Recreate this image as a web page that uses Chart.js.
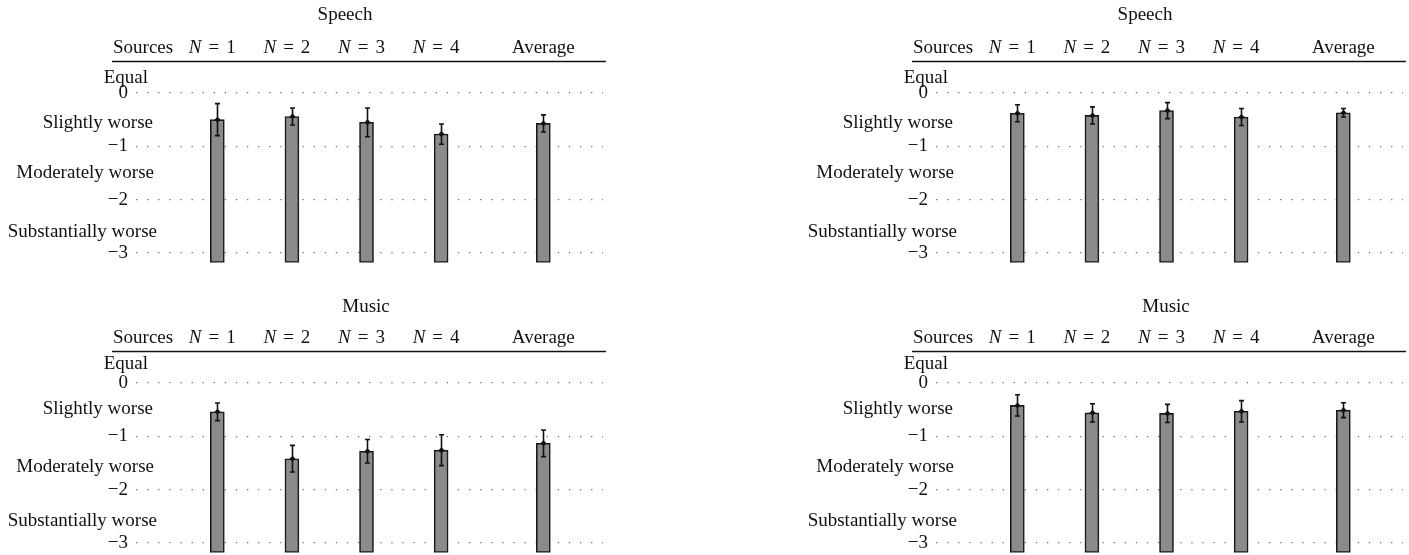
<!DOCTYPE html>
<html>
<head>
<meta charset="utf-8">
<script src="https://cdn.jsdelivr.net/npm/chart.js@4.4.1/dist/chart.umd.min.js"></script>
<style>
  html, body { margin: 0; padding: 0; background: #fff; overflow: hidden; }
  body { width: 1409px; height: 555px; position: relative; }
  .panel { position: absolute; width: 612px; height: 282px; }
  .panel canvas { display: block; }
</style>
</head>
<body>
<div class="panel" style="left:0px;top:0px"><canvas id="c1" width="612" height="282"></canvas></div>
<div class="panel" style="left:800px;top:0px"><canvas id="c2" width="612" height="282"></canvas></div>
<div class="panel" style="left:0px;top:290px"><canvas id="c3" width="612" height="282"></canvas></div>
<div class="panel" style="left:800px;top:290px"><canvas id="c4" width="612" height="282"></canvas></div>
<script>
// ---------------- DATA ----------------
const categories = ['N = 1', 'N = 2', 'N = 3', 'N = 4', 'Average'];
const headerLead = 'Sources';
const ratingLabels = ['Equal', 'Slightly worse', 'Moderately worse', 'Substantially worse'];
const yTicks = [0, -1, -2, -3];
const yTickLabels = ['0', '\u22121', '\u22122', '\u22123'];

const speechLeft      = [-0.50, -0.44, -0.55, -0.77, -0.57];
const speechLeftErr   = [0.30, 0.16, 0.27, 0.19, 0.16];
const speechRight     = [-0.38, -0.42, -0.33, -0.45, -0.37];
const speechRightErr  = [0.16, 0.16, 0.15, 0.16, 0.08];
const musicLeft       = [-0.54, -1.42, -1.28, -1.26, -1.13];
const musicLeftErr    = [0.165, 0.25, 0.22, 0.29, 0.25];
const musicRight      = [-0.42, -0.56, -0.57, -0.53, -0.51];
const musicRightErr   = [0.20, 0.17, 0.17, 0.20, 0.14];

// ---------------- LAYOUT / STYLE ----------------
const FONT = '"Liberation Serif", "Times New Roman", serif';
const FS = 19;
const Y_MIN = -3.18, Y_MAX = 0;
const AVG_GAP = 1.37;          // extra spacing before the "Average" slot
const X_MIN = -1.09, X_MAX = 5.17;
const PAD = { left: 0, right: 9, top: 93, bottom: 8 };
const AXIS_W = 136;
const LABEL_RIGHT = [148, 153, 154, 157];

const panels = [
  { id: 'c1', title: 'Speech', values: speechLeft,  errors: speechLeftErr,  titleX: 345, titleY: 20, offs: [-10.5, -18.5, -21.5, -16] },
  { id: 'c2', title: 'Speech', values: speechRight, errors: speechRightErr, titleX: 345, titleY: 20, offs: [-10.5, -18.5, -21.5, -16] },
  { id: 'c3', title: 'Music',  values: musicLeft,   errors: musicLeftErr,   titleX: 366, titleY: 22, offs: [-14.5, -22.5, -17.5, -17] },
  { id: 'c4', title: 'Music',  values: musicRight,  errors: musicRightErr,  titleX: 366, titleY: 22, offs: [-14.5, -22.5, -17.5, -17] }
];

function slotOf(i) { return i < 4 ? i : 3 + AVG_GAP; }

const decorPlugin = {
  id: 'decor',
  afterDraw(chart, args, opts) {
    const ctx = chart.ctx;
    const xs = chart.scales.x, ys = chart.scales.y;
    ctx.save();
    ctx.fillStyle = '#111';
    ctx.strokeStyle = '#111';
    ctx.textBaseline = 'alphabetic';
    ctx.font = FS + 'px ' + FONT;
    // title
    ctx.textAlign = 'center';
    ctx.fillText(opts.title, opts.titleX, opts.titleY);
    // header row
    ctx.textAlign = 'left';
    ctx.fillText(headerLead, 113, 53);
    categories.forEach((c, i) => {
      const px = xs.getPixelForValue(slotOf(i));
      if (c.startsWith('N')) {
        const parts = c.split(' '); // ['N','=','k']
        const gap = 7;
        ctx.font = 'italic ' + FS + 'px ' + FONT;
        const wN = ctx.measureText(parts[0]).width;
        ctx.font = FS + 'px ' + FONT;
        const wEq = ctx.measureText(parts[1]).width;
        const wK = ctx.measureText(parts[2]).width;
        const total = wN + gap + wEq + gap + wK;
        let x = px - 5 - total / 2;
        ctx.textAlign = 'left';
        ctx.font = 'italic ' + FS + 'px ' + FONT;
        ctx.fillText(parts[0], x, 53);
        x += wN + gap;
        ctx.font = FS + 'px ' + FONT;
        ctx.fillText(parts[1], x, 53);
        x += wEq + gap;
        ctx.fillText(parts[2], x, 53);
      } else {
        ctx.textAlign = 'center';
        ctx.font = FS + 'px ' + FONT;
        ctx.fillText(c, px, 53);
      }
    });
    // header rule
    ctx.lineWidth = 1.6;
    ctx.beginPath();
    ctx.moveTo(112, 61.5);
    ctx.lineTo(606, 61.5);
    ctx.stroke();
    // rating labels above tick numbers
    ctx.font = FS + 'px ' + FONT;
    ctx.textAlign = 'right';
    ratingLabels.forEach((lab, i) => {
      const py = ys.getPixelForValue(yTicks[i]) + opts.offs[i];
      ctx.fillText(lab, LABEL_RIGHT[i], py);
    });
    ctx.restore();
  }
};

const errorBarPlugin = {
  id: 'errbars',
  afterDatasetsDraw(chart, args, opts) {
    const ctx = chart.ctx;
    const ys = chart.scales.y;
    const meta = chart.getDatasetMeta(0);
    ctx.save();
    ctx.strokeStyle = '#111';
    ctx.fillStyle = '#111';
    ctx.lineWidth = 1.6;
    meta.data.forEach((bar, i) => {
      const v = opts.values[i], e = opts.errors[i];
      const x = Math.round(bar.x) + 0.5;
      const yT = ys.getPixelForValue(v + e);
      const yB = ys.getPixelForValue(v - e);
      const yM = ys.getPixelForValue(v);
      ctx.beginPath();
      ctx.moveTo(x, yT); ctx.lineTo(x, yB);
      ctx.moveTo(x - 2.5, yT); ctx.lineTo(x + 2.5, yT);
      ctx.moveTo(x - 2.5, yB); ctx.lineTo(x + 2.5, yB);
      ctx.stroke();
      ctx.beginPath();
      ctx.moveTo(x, yM - 3); ctx.lineTo(x + 3, yM); ctx.lineTo(x, yM + 3); ctx.lineTo(x - 3, yM);
      ctx.closePath();
      ctx.fill();
    });
    ctx.restore();
  }
};

panels.forEach(p => {
  new Chart(document.getElementById(p.id), {
    type: 'bar',
    data: {
      datasets: [{
        data: p.values.map((v, i) => ({ x: slotOf(i), y: v })),
        base: Y_MIN,
        backgroundColor: '#8b8b8b',
        borderColor: '#1a1a1a',
        borderWidth: 1.6,
        borderSkipped: false,
        barThickness: 14
      }]
    },
    options: {
      responsive: false,
      animation: false,
      devicePixelRatio: 1,
      layout: { padding: PAD },
      plugins: {
        legend: { display: false },
        tooltip: { enabled: false },
        title: { display: false },
        decor: { title: p.title, titleX: p.titleX, titleY: p.titleY, offs: p.offs },
        errbars: { values: p.values, errors: p.errors }
      },
      scales: {
        x: { type: 'linear', min: X_MIN, max: X_MAX, display: false, offset: false },
        y: {
          type: 'linear', min: Y_MIN, max: Y_MAX,
          afterBuildTicks: (s) => { s.ticks = yTicks.map(v => ({ value: v })); },
          afterFit: (s) => { s.width = AXIS_W; },
          ticks: {
            callback: (v) => yTickLabels[yTicks.indexOf(v)],
            font: { family: FONT, size: FS },
            color: '#111',
            padding: 8
          },
          grid: { color: '#6e6e6e', lineWidth: 1.3, drawTicks: false },
          border: { display: false, dash: [1.3, 9.8] }
        }
      }
    },
    plugins: [decorPlugin, errorBarPlugin]
  });
});
</script>
</body>
</html>
